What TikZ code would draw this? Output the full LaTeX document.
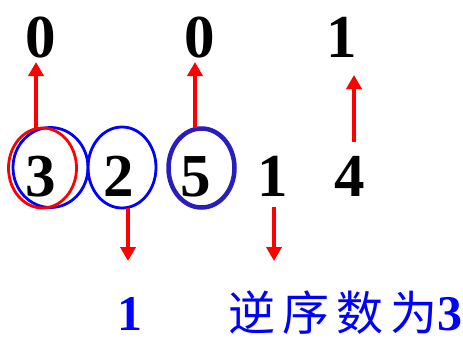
\documentclass[tikz,border=0pt]{standalone}
\usepackage{fontspec}
\setmainfont{Liberation Serif}
\newfontfamily\cjk{Noto Sans CJK SC}
\usetikzlibrary{shapes.geometric,arrows.meta}
\definecolor{myred}{RGB}{255,0,0}
\definecolor{myblue}{RGB}{0,0,255}
\definecolor{darkblue}{RGB}{40,30,190}
\tikzset{
  digit/.style={inner sep=0pt,anchor=base,font=\bfseries\fontsize{61}{61}\selectfont},
  bluetxt/.style={inner sep=0pt,anchor=base,text=myblue},
  ring/.style={ellipse,draw,line width=2.8pt,inner sep=0pt,fill=none},
  rarrow/.style={draw=myred,line width=4.5pt,-{Triangle[width=15pt,length=14pt]},myred}
}
\begin{document}
\begin{tikzpicture}[x=1pt,y=-1pt]
\useasboundingbox (0,0) rectangle (463,338);
\fill[white] (0,0) rectangle (463,338);
% top row
\node[digit] (t1) at (41,57) {0};
\node[digit] (t2) at (200,57) {0};
\node[digit] (t3) at (342,57) {1};
% middle row
\node[digit] (m1) at (41,196) {3};
\node[digit] (m2) at (119,196) {2};
\node[digit] (m3) at (196,196) {5};
\node[digit] (m4) at (273,196) {1};
\node[digit] (m5) at (350,196) {4};
% rings
\node[ring,draw=myblue,minimum width=75pt,minimum height=80pt] (e1b) at (50.5,167.5) {};
\node[ring,draw=myred,minimum width=68pt,minimum height=80pt] (e1r) at (42.5,168) {};
\node[ring,draw=myblue,minimum width=68pt,minimum height=81pt] (e2) at (122,167.5) {};
\node[ring,draw=darkblue,line width=4.5pt,minimum width=66pt,minimum height=79pt] (e3) at (201.5,168) {};
% arrow endpoints
\coordinate (a1s) at (36,129);
\coordinate (a1e) at (36,62);
\coordinate (a2s) at (195,128);
\coordinate (a2e) at (195,62);
\coordinate (a3s) at (354,142);
\coordinate (a3e) at (354,75);
\coordinate (a4s) at (128,208);
\coordinate (a4e) at (128,261);
\coordinate (a5s) at (274,207);
\coordinate (a5e) at (274,261);
\draw[rarrow] (a1s) -- (a1e);
\draw[rarrow] (a2s) -- (a2e);
\draw[rarrow] (a3s) -- (a3e);
\draw[rarrow] (a4s) -- (a4e);
\draw[rarrow] (a5s) -- (a5e);
% bottom
\node[bluetxt,font=\bfseries\fontsize{50}{50}\selectfont] (b1) at (130,330) {1};
\node[bluetxt,anchor=base east] (b2) at (463,330) {{\cjk\fontsize{47}{47}\selectfont 逆\hspace{7pt}序\hspace{7pt}数\hspace{7pt}为}{\bfseries\fontsize{50}{50}\selectfont 3}};
\end{tikzpicture}
\end{document}
